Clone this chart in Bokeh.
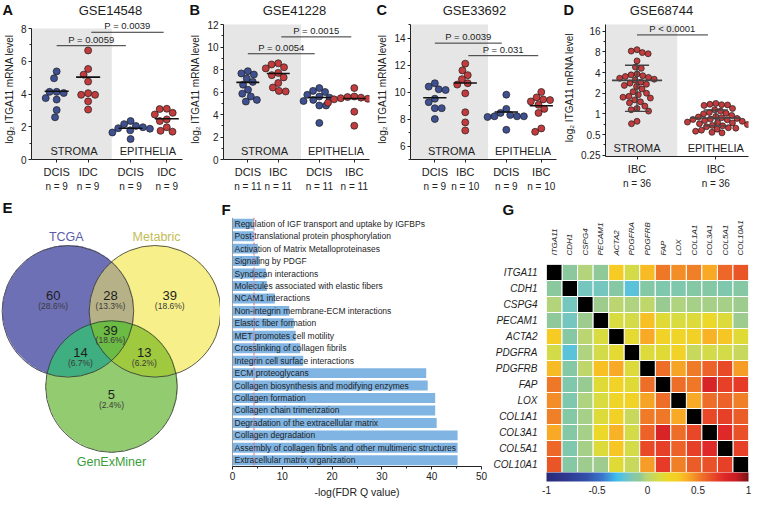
import numpy as np
from bokeh.plotting import figure
from bokeh.models import (Range1d, FactorRange, FixedTicker, BoxAnnotation, ColorBar,
                          LinearColorMapper, NumeralTickFormatter, Span, ColumnDataSource,
                          LinearAxis)
from bokeh.layouts import row, column
from bokeh.core.properties import value
from bokeh.transform import transform
from bokeh.embed import file_html
from bokeh.resources import INLINE

FONT = "Liberation Sans"

# ------------------------------------------------------------------ DATA
# Panel A  GSE14548
a_labels = ["DCIS", "IDC", "DCIS", "IDC"]
a_n = [9, 9, 9, 9]
a_dcis_stroma = [5.38, 4.96, 4.13, 4.13, 4.06, 3.75, 3.66, 3.02, 2.58]
a_idc_stroma = [6.66, 5.53, 5.18, 4.76, 4.05, 3.95, 3.95, 3.55, 3.05]
a_dcis_epi = [2.35, 2.16, 2.05, 1.97, 1.91, 1.88, 1.78, 1.65, 1.25]
a_idc_epi = [3.10, 3.08, 2.85, 2.75, 2.45, 2.35, 1.97, 1.75, 1.70]
a_centre = [4.17, 5.03, 1.91, 2.49]
a_ptext = ["P = 0.0059", "P = 0.0039"]
a_pbar_y = [6.95, 7.77]

# Panel B  GSE41228
b_labels = ["DCIS", "IBC", "DCIS", "IBC"]
b_n = [11, 11, 11, 11]
b_dcis_stroma = [7.85, 7.65, 7.55, 7.2, 6.9, 6.65, 6.2, 5.85, 5.6, 5.3, 5.15]
b_ibc_stroma = [8.55, 8.45, 8.2, 8.1, 7.7, 7.5, 7.3, 6.8, 6.4, 6.1, 6.05]
b_dcis_epi = [6.35, 6.1, 6.0, 5.75, 5.6, 5.5, 5.3, 5.2, 4.8, 4.8, 3.25]
b_ibc_epi = [6.35, 5.6, 5.55, 5.5, 5.45, 5.4, 5.35, 5.1, 5.05, 4.25, 3.0]
b_centre = [6.86, 7.64, 5.51, 5.42]
b_ptext = ["P = 0.0054", "P = 0.0015"]
b_pbar_y = [9.4, 10.9]

# Panel C  GSE33692
c_labels = ["DCIS", "IBC", "DCIS", "IBC"]
c_n = [9, 10, 9, 10]
c_dcis_stroma = [10.65, 10.4, 10.2, 10.15, 9.5, 9.25, 8.8, 8.8, 8.0]
c_ibc_stroma = [12.1, 11.6, 11.25, 10.95, 10.65, 10.55, 9.9, 8.5, 7.75, 7.15]
c_dcis_epi = [9.8, 8.75, 8.45, 8.3, 8.2, 8.2, 8.15, 8.2, 7.2]
c_ibc_epi = [10.0, 9.6, 9.45, 9.4, 9.3, 9.05, 8.75, 8.45, 7.3, 7.05]
c_centre = [9.57, 10.67, 8.52, 8.98]
c_ptext = ["P = 0.0039", "P = 0.031"]
c_pbar_y = [13.62, 12.69]

# Panel D  GSE68744 (log2 scale)
d_labels = ["IBC", "IBC"]
d_n = [36, 36]
d_stroma = [8.6, 8.2, 7.8, 7.5, 5.9, 4.8, 4.6, 3.8, 3.7, 3.6, 3.5, 3.4, 3.3, 3.2, 3.1,
            2.9, 2.8, 2.7, 2.6, 2.5, 2.3, 2.1, 2.0, 1.9, 1.8, 1.75, 1.7, 1.6, 1.5, 1.45,
            1.3, 1.2, 1.15, 1.1, 0.78, 0.72]
d_epi = [1.42, 1.38, 1.36, 1.35, 1.33, 1.2, 1.15, 1.1, 1.05, 1.02, 1.0, 0.95, 0.92, 0.9,
         0.88, 0.86, 0.84, 0.83, 0.82, 0.8, 0.78, 0.76, 0.75, 0.74, 0.72, 0.7, 0.68, 0.67,
         0.65, 0.63, 0.62, 0.6, 0.58, 0.56, 0.54, 0.53]
d_centre = [3.08, 0.87]
d_upper = [5.1, 1.14]
d_lower = [1.09, 0.67]
d_ptext = ["P < 0.0001"]
d_pbar_y = [14.1]

# Panel E  Venn
venn_sets = ["TCGA", "Metabric", "GenExMiner"]
venn_regions = ["T", "M", "G", "TM", "TG", "MG", "TMG"]
venn_counts = [60, 39, 5, 28, 14, 13, 39]
venn_pcts = ["(28.6%)", "(18.6%)", "(2.4%)", "(13.3%)", "(6.7%)", "(6.2%)", "(18.6%)"]

# Panel F  pathway enrichment
f_terms = ["Regulation of IGF transport and uptake by IGFBPs",
           "Post-translational protein phosphorylation",
           "Activation of Matrix Metalloproteinases",
           "Signaling by PDGF",
           "Syndecan interactions",
           "Molecules associated with elastic fibers",
           "NCAM1 interactions",
           "Non-integrin membrane-ECM interactions",
           "Elastic fiber formation",
           "MET promotes cell motility",
           "Crosslinking of collagen fibrils",
           "Integrin cell surface interactions",
           "ECM proteoglycans",
           "Collagen biosynthesis and modifying enzymes",
           "Collagen formation",
           "Collagen chain trimerization",
           "Degradation of the extracellular matrix",
           "Collagen degradation",
           "Assembly of collagen fibrils and other multimeric structures",
           "Extracellular matrix organization"]
f_values = [4.3, 4.3, 5.1, 5.4, 6.7, 6.9, 8.5, 11.4, 12.3, 12.7, 13.6, 14.2,
            38.9, 39.2, 40.7, 40.7, 41.0, 45.2, 45.2, 45.2]
f_cutoff = 0.05

# Panel G  correlation heatmap (lower triangle, symmetric)
genes = ["ITGA11", "CDH1", "CSPG4", "PECAM1", "ACTA2", "PDGFRA", "PDGFRB",
         "FAP", "LOX", "COL1A1", "COL3A1", "COL5A1", "COL10A1"]
corr_lower = [
    [],
    [-0.10],
    [-0.02, -0.18],
    [-0.08, -0.18, -0.06],
    [0.30, -0.12, 0.00, 0.12],
    [0.10, -0.25, -0.03, 0.10, 0.17],
    [0.35, -0.13, 0.02, 0.33, 0.40, 0.14],
    [0.53, -0.15, -0.07, 0.15, 0.24, 0.15, 0.55],
    [0.47, -0.15, -0.03, 0.12, 0.22, 0.24, 0.42, 0.55],
    [0.50, -0.13, -0.04, 0.14, 0.25, 0.05, 0.52, 0.53, 0.40],
    [0.40, -0.13, -0.04, 0.20, 0.38, 0.10, 0.58, 0.80, 0.55, 0.66],
    [0.57, -0.15, -0.04, 0.14, 0.32, 0.10, 0.65, 0.68, 0.58, 0.68, 0.76],
    [0.62, -0.12, -0.06, -0.06, 0.15, 0.05, 0.43, 0.70, 0.50, 0.60, 0.63, 0.68],
]
cbar_ticks = [-1, -0.5, 0, 0.5, 1]

# ------------------------------------------------------------------ STYLE
BLUE = "#3f5091"
RED = "#c23b3d"
HEAD = 18
H_PANEL = 198 - HEAD
H_BOT = 302


def fig(**kw):
    return figure(output_backend="svg", toolbar_location=None, frame_align=False, **kw)


def swarm(vals, ypx, d):
    ys = np.asarray(vals, float) * ypx
    order = np.argsort(-ys)
    px, py = [], []
    off = np.zeros(len(ys))
    for i in order:
        y = ys[i]
        cands = [0.0]
        for a, b in zip(px, py):
            dy = abs(b - y)
            if dy < d:
                dx = np.sqrt(d * d - dy * dy)
                cands += [a + dx, a - dx]
        cands.sort(key=lambda c: (round(abs(c), 6), c))
        chosen = 0.0
        for c in cands:
            if all((c - a) ** 2 + (y - b) ** 2 >= d * d - 1e-6 for a, b in zip(px, py)):
                chosen = c
                break
        off[i] = chosen
        px.append(chosen)
        py.append(y)
    return off


def style_axis(ax, size="10px"):
    ax.major_label_text_font = FONT
    ax.major_label_text_font_size = size
    ax.major_label_text_color = "#222222"
    ax.axis_label_text_font = FONT
    ax.axis_label_text_font_style = "normal"
    ax.axis_label_text_color = "#222222"
    ax.axis_label_text_font_size = "10px"
    ax.axis_line_color = "#222222"
    ax.major_tick_line_color = "#222222"
    ax.minor_tick_line_color = "#222222"
    ax.major_tick_in = 0
    ax.minor_tick_in = 0


def header(W, letter, title, title_x):
    h = fig(width=W, height=HEAD, x_range=Range1d(0, W), y_range=Range1d(HEAD, 0), min_border=0)
    h.axis.visible = False
    h.grid.visible = False
    h.outline_line_color = None
    h.text(x=[2], y=[HEAD / 2 + 0.5], text=[letter], text_align="left", text_baseline="middle",
           text_font=value(FONT), text_font_size="14.5px", text_font_style="bold",
           text_color="#111111")
    h.text(x=[title_x], y=[HEAD / 2 + 0.5], text=[title], text_align="center",
           text_baseline="middle", text_font=value(FONT), text_font_size="13px",
           text_color="#1e1e1e")
    return h


def dot_panel(letter, title, title_x, W, mbl, mbr, mbb, ext_px, xr, yr, ylog, pos,
              labels, ns, series, colors, centre, yticks, yminor, shade_end, region_x, pbars,
              msize=7, hw_px=12.5, stats=None, fmt=None):
    H = H_PANEL
    data_px = (H - mbb) - ext_px
    fw = W - mbl - mbr
    xpx = fw / (xr[1] - xr[0])
    if ylog:
        ypx = data_px / (np.log2(yr[1]) - np.log2(yr[0]))
        ytop = yr[1] * 2 ** (ext_px / ypx)
    else:
        ypx = data_px / (yr[1] - yr[0])
        ytop = yr[1] + ext_px / ypx
    p = fig(width=W, height=H, x_range=Range1d(*xr), y_range=Range1d(yr[0], ytop),
            y_axis_type=("log" if ylog else "linear"), min_border_left=mbl,
            min_border_right=mbr, min_border_top=0, min_border_bottom=mbb)
    p.outline_line_color = None
    p.grid.visible = False

    p.add_layout(BoxAnnotation(left=xr[0], right=shade_end, top=yr[1], fill_color="#e6e6e6",
                               fill_alpha=1, line_color=None, level="underlay"))

    for k, vals in enumerate(series):
        v = np.asarray(vals, float)
        t = np.log2(v) if ylog else v
        off = swarm(t, ypx, msize + 0.4) / xpx
        p.scatter(x=pos[k] + off, y=v, size=msize, fill_color=colors[k],
                  line_color="#1c1c1c", line_width=0.7)

    hw = hw_px / xpx
    lc = "#111111" if stats is None else "#444444"
    p.segment(x0=[x - hw for x in pos], x1=[x + hw for x in pos], y0=centre, y1=centre,
              line_color=lc, line_width=1.6)
    if stats is not None:
        lo, hi = stats
        cw = 13 / xpx
        p.segment(x0=pos, x1=pos, y0=lo, y1=hi, line_color=lc, line_width=1.4)
        p.segment(x0=[x - cw for x in pos], x1=[x + cw for x in pos], y0=lo, y1=lo,
                  line_color=lc, line_width=1.4)
        p.segment(x0=[x - cw for x in pos], x1=[x + cw for x in pos], y0=hi, y1=hi,
                  line_color=lc, line_width=1.4)

    for (x0, x1, yb, txt) in pbars:
        p.segment(x0=[x0], x1=[x1], y0=[yb], y1=[yb], line_color="#333333", line_width=1)
        p.text(x=[(x0 + x1) / 2], y=[yb], text=[txt], text_align="center",
               text_baseline="bottom", y_offset=-1, text_font=value(FONT),
               text_font_size="9.5px", text_color="#222222")

    p.text(x=region_x, y=[yr[0]] * 2, text=["STROMA", "EPITHELIA"], text_align="center",
           text_baseline="bottom", y_offset=-3, text_font=value(FONT), text_font_size="11px",
           text_color="#222222")

    ya = p.yaxis[0]
    style_axis(ya)
    ya.ticker = FixedTicker(ticks=yticks, minor_ticks=yminor)
    ya.bounds = (yr[0], yr[1])
    ya.axis_label = "log\u2082 ITGA11 mRNA level"
    ya.major_tick_out = 3
    ya.minor_tick_out = 2
    ya.major_label_standoff = 2
    ya.axis_label_standoff = 3
    if fmt is not None:
        ya.formatter = fmt
    xa = p.xaxis[0]
    style_axis(xa, "11px")
    xa.ticker = FixedTicker(ticks=pos, minor_ticks=[])
    xa.major_label_overrides = {pos[i]: labels[i] for i in range(len(pos))}
    xa.major_tick_out = 3
    xa.major_label_standoff = 3

    na = LinearAxis(ticker=FixedTicker(ticks=pos, minor_ticks=[]),
                    major_label_overrides={pos[i]: "n = %d" % ns[i] for i in range(len(pos))},
                    axis_line_color=None, major_tick_line_color=None,
                    minor_tick_line_color=None, major_tick_out=0, major_tick_in=0,
                    major_label_standoff=0, major_label_text_font=FONT,
                    major_label_text_font_size="10px", major_label_text_color="#222222")
    p.add_layout(na, "below")
    return column(header(W, letter, title, title_x), p)


POS4 = [1, 2, 3.35, 4.5]
XR4 = (0.2, 5.0)
B1 = (1.0, 3.2)
B2 = (2.1, 4.4)
REG4 = [1.55, 3.9]

pA = dot_panel("A", "GSE14548", 110, 187, 25, 5, 39, 10, XR4, (0, 8), False, POS4,
               a_labels, a_n, [a_dcis_stroma, a_idc_stroma, a_dcis_epi, a_idc_epi],
               [BLUE, RED, BLUE, RED], a_centre, [0, 2, 4, 6, 8], [1, 3, 5, 7], 2.75, REG4,
               [(B1[0], B1[1], a_pbar_y[0], a_ptext[0]), (B2[0], B2[1], a_pbar_y[1], a_ptext[1])])
pB = dot_panel("B", "GSE41228", 107, 187, 23, 5, 39, 6, XR4, (0, 12), False, POS4,
               b_labels, b_n, [b_dcis_stroma, b_ibc_stroma, b_dcis_epi, b_ibc_epi],
               [BLUE, RED, BLUE, RED], b_centre, [0, 2, 4, 6, 8, 10, 12],
               [1, 3, 5, 7, 9, 11], 2.75, REG4,
               [(B1[0], B1[1], b_pbar_y[0], b_ptext[0]), (B2[0], B2[1], b_pbar_y[1], b_ptext[1])])
pC = dot_panel("C", "GSE33692", 100, 187, 25, 5, 39, 6, XR4, (5, 15), False, POS4,
               c_labels, c_n, [c_dcis_stroma, c_ibc_stroma, c_dcis_epi, c_ibc_epi],
               [BLUE, RED, BLUE, RED], c_centre, [6, 8, 10, 12, 14], [5, 7, 9, 11, 13, 15],
               2.75, REG4,
               [(B1[0], B1[1], c_pbar_y[0], c_ptext[0]), (B2[0], B2[1], c_pbar_y[1], c_ptext[1])])
pD = dot_panel("D", "GSE68744", 100, 191, 33, 4, 42, 6, (0.6, 2.415), (0.24, 20), True,
               [1, 2], d_labels, d_n, [d_stroma, d_epi], [RED, RED], d_centre,
               [0.25, 0.5, 1, 2, 4, 8, 16], [0.354, 0.707, 1.414, 2.83, 5.66, 11.3], 1.51,
               [1, 2], [(1.0, 1.9, d_pbar_y[0], d_ptext[0])], msize=6, hw_px=27,
               stats=(d_lower, d_upper), fmt=NumeralTickFormatter(format="0.[00]"))

# ------------------------------------------------------------------ E  Venn
WE = 220
XW = 234.0
YH = XW * H_BOT / WE
YS = 4.0  # vertical shift (panel units)
pE = fig(width=WE, height=H_BOT, x_range=Range1d(0, XW), y_range=Range1d(0, YH), min_border=0)
pE.axis.visible = False
pE.grid.visible = False
pE.outline_line_color = None

R = 70.0
centres = {"T": (71.7, 116.0 + YS), "M": (164.3, 116.0 + YS), "G": (118.0, 196.0 + YS)}
region_col = {"T": (110, 112, 182), "M": (247, 240, 138), "G": (147, 203, 112),
              "TM": (182, 177, 135), "TG": (63, 174, 128), "MG": (159, 201, 62),
              "TMG": (108, 187, 68)}
nx, ny = 440, int(round(H_BOT * 2))
gx = (np.arange(nx) + 0.5) * XW / nx
gy = (np.arange(ny) + 0.5) * YH / ny
GX, GY = np.meshgrid(gx, gy)
GYp = YH - GY
inside = {k: (GX - c[0]) ** 2 + (GYp - c[1]) ** 2 <= R * R for k, c in centres.items()}
img = np.zeros((ny, nx), dtype=np.uint32)
view = img.view(dtype=np.uint8).reshape((ny, nx, 4))
for key, col in region_col.items():
    m = np.ones_like(GX, dtype=bool)
    for s in "TMG":
        m &= inside[s] if s in key else ~inside[s]
    view[m, 0], view[m, 1], view[m, 2], view[m, 3] = col[0], col[1], col[2], 255
pE.image_rgba(image=[img], x=0, y=0, dw=XW, dh=YH)
pE.circle(x=[c[0] for c in centres.values()], y=[YH - c[1] for c in centres.values()],
          radius=R, fill_color=None, line_color="#333333", line_width=0.8)

reg_xy = {"T": (56, 99), "M": (180, 99), "G": (118, 205), "TM": (117, 99),
          "TG": (85, 160), "MG": (153, 160), "TMG": (117, 136)}
pE.text(x=[reg_xy[r][0] for r in venn_regions],
        y=[YH - reg_xy[r][1] - YS for r in venn_regions],
        text=[str(c) for c in venn_counts], text_align="center", text_baseline="middle",
        text_font=value(FONT), text_font_size="13px", text_color="#1e1e1e")
pE.text(x=[reg_xy[r][0] for r in venn_regions],
        y=[YH - reg_xy[r][1] - 11 - YS for r in venn_regions],
        text=venn_pcts, text_align="center", text_baseline="middle",
        text_font=value(FONT), text_font_size="8.5px", text_color="#3a3a3a")
pE.text(x=[70, 166, 118], y=[YH - 37 - YS, YH - 37 - YS, YH - 276 - YS], text=venn_sets,
        text_align="center", text_baseline="middle", text_font=value(FONT),
        text_font_size="12.5px", text_color=["#5b5ca8", "#c4bc55", "#3a9d3a"])
pE.text(x=[2], y=[YH - 10], text=["E"], text_align="left", text_baseline="middle",
        text_font=value(FONT), text_font_size="15px", text_font_style="bold",
        text_color="#111111")

# ------------------------------------------------------------------ F  bars
mblF, mbbF = 12, 33
pF = fig(width=270, height=H_BOT, x_range=Range1d(0, 50),
         y_range=FactorRange(factors=f_terms[::-1]), min_border_left=mblF, min_border_right=9,
         min_border_top=19, min_border_bottom=mbbF)
pF.outline_line_color = None
pF.grid.visible = False
pF.hbar(y=f_terms, left=0, right=f_values, height=0.8, fill_color="#80b4e2", line_color=None)
pF.add_layout(Span(location=float(-np.log2(f_cutoff)), dimension="height",
                   line_color="#d9708a", line_dash="3 2", line_width=1))
pF.add_layout(Span(location=0, dimension="height", line_color="#444444", line_width=1))
pF.text(x=[0] * len(f_terms), y=f_terms, text=f_terms, x_offset=2, text_align="left",
        text_baseline="middle", text_font=value(FONT), text_font_size="8.5px",
        text_color="#1e1e1e")
xa = pF.xaxis[0]
style_axis(xa)
xa.ticker = FixedTicker(ticks=[0, 10, 20, 30, 40, 50], minor_ticks=[5, 15, 25, 35, 45])
xa.axis_label = "-log(FDR Q value)"
xa.axis_label_text_font_size = "10.5px"
xa.major_tick_out = 3
xa.minor_tick_out = 2
xa.major_label_standoff = 2
xa.axis_label_standoff = 3
pF.yaxis.visible = False
pF.title.text = "F"
pF.title.align = "left"
pF.title.offset = -mblF + 1
pF.title.standoff = 0
pF.title.text_font = FONT
pF.title.text_font_size = "15px"
pF.title.text_font_style = "bold"
pF.title.text_color = "#111111"

# ------------------------------------------------------------------ G  heatmap
stops = [-1.0, -0.8, -0.6, -0.45, -0.3, -0.22, -0.15, -0.08, -0.02, 0.05, 0.12, 0.2, 0.3,
         0.4, 0.5, 0.58, 0.66, 0.76, 0.88, 1.0]
stop_cols = ["#2b2a7a", "#2e3a90", "#3352aa", "#3a76cc", "#40c0ec", "#68c4d0", "#80c8ac",
             "#90c898", "#b4d47c", "#c8d85c", "#d8dc40", "#ecd828", "#f6cc24", "#f8ac26",
             "#f08228", "#ec6428", "#e84828", "#e02828", "#c81e24", "#7d1416"]


def hex2rgb(h):
    return [int(h[i:i + 2], 16) for i in (1, 3, 5)]


rgbs = np.array([hex2rgb(c) for c in stop_cols], float)
grid = np.linspace(-1, 1, 256)
palette = ["#%02x%02x%02x" % tuple(int(round(np.interp(g, stops, rgbs[:, k]))) for k in range(3))
           for g in grid]
mapper = LinearColorMapper(palette=palette, low=-1, high=1)

xs, ys, vs = [], [], []
for i, g1 in enumerate(genes):
    for j, g2 in enumerate(genes):
        if i == j:
            continue
        v = corr_lower[i][j] if j < i else corr_lower[j][i]
        xs.append(g2)
        ys.append(g1)
        vs.append(v)

mblG, mbbG = 49, 28
pG = fig(width=262, height=H_BOT, x_range=FactorRange(factors=genes),
         y_range=FactorRange(factors=genes[::-1]), x_axis_location="above",
         min_border_left=mblG, min_border_right=4, min_border_top=50, min_border_bottom=mbbG)
pG.outline_line_color = None
pG.grid.visible = False
pG.rect(x="x", y="y", width=1, height=1, source=ColumnDataSource(dict(x=xs, y=ys, v=vs)),
        fill_color=transform("v", mapper), line_color="white", line_width=1)
pG.rect(x=genes, y=genes, width=1, height=1, fill_color="black", line_color="white",
        line_width=1)
for ax in pG.axis:
    ax.axis_line_color = None
    ax.major_tick_line_color = None
    ax.minor_tick_line_color = None
    ax.major_label_text_font = FONT
    ax.major_label_text_font_style = "italic"
    ax.major_label_text_color = "#1e1e1e"
    ax.major_label_standoff = 3
pG.xaxis.major_label_orientation = "vertical"
pG.xaxis.major_label_text_font_size = "8px"
pG.yaxis.major_label_text_font_size = "10px"
cb = ColorBar(color_mapper=mapper, orientation="horizontal", height=9, padding=0, margin=4,
              ticker=FixedTicker(ticks=cbar_ticks),
              formatter=NumeralTickFormatter(format="0.[0]"),
              major_label_text_font=FONT, major_label_text_font_size="10px",
              major_label_text_color="#222222", major_tick_line_color=None,
              minor_tick_line_color=None, bar_line_color=None, border_line_color=None,
              label_standoff=4, background_fill_alpha=0)
pG.add_layout(cb, "below")
pG.title.text = "G"
pG.title.align = "left"
pG.title.offset = -mblG + 5
pG.title.standoff = 0
pG.title.text_font = FONT
pG.title.text_font_size = "15px"
pG.title.text_font_style = "bold"
pG.title.text_color = "#111111"

layout = column(row(pA, pB, pC, pD), row(pE, pF, pG))
open("out.html", "w").write(file_html(layout, INLINE))
